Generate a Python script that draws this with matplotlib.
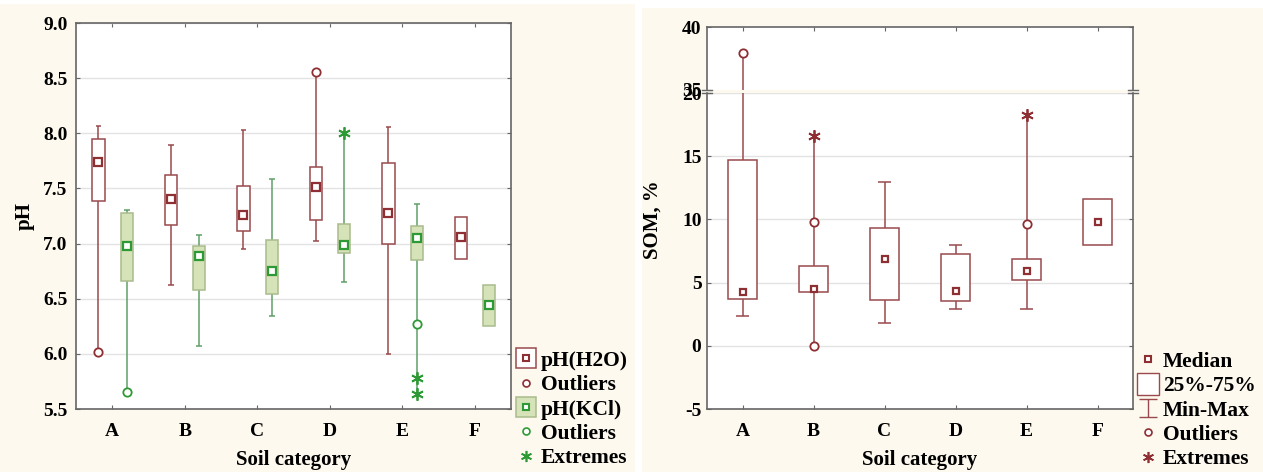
import numpy as np
import matplotlib.pyplot as plt
from matplotlib.lines import Line2D
from matplotlib.path import Path
from matplotlib.legend_handler import HandlerTuple

plt.rcParams['font.family'] = ['Liberation Serif', 'DejaVu Serif']
plt.rcParams['font.weight'] = 'bold'
plt.rcParams['axes.unicode_minus'] = False

categories = ['A', 'B', 'C', 'D', 'E', 'F']
nan = np.nan

# pH(H2O)
h2o_q1 = [7.39, 7.17, 7.11, 7.21, 7.00, 6.86]
h2o_med = [7.74, 7.40, 7.26, 7.51, 7.28, 7.06]
h2o_q3 = [7.95, 7.62, 7.52, 7.69, 7.73, 7.24]
h2o_lo = [nan, 6.62, 6.95, 7.02, 6.00, nan]
h2o_hi = [8.07, 7.89, 8.03, nan, 8.06, nan]
h2o_out = [[6.02], [], [], [8.56], [], []]
h2o_ext = [[], [], [], [], [], []]

# pH(KCl)
kcl_q1 = [6.66, 6.58, 6.54, 6.91, 6.85, 6.25]
kcl_med = [6.98, 6.89, 6.75, 6.99, 7.05, 6.44]
kcl_q3 = [7.28, 6.98, 7.03, 7.18, 7.16, 6.62]
kcl_lo = [nan, 6.07, 6.34, 6.65, nan, nan]
kcl_hi = [7.30, 7.08, 7.59, nan, 7.36, nan]
kcl_out = [[5.65], [], [], [], [6.27], []]
kcl_ext = [[], [], [], [8.00], [5.78, 5.64], []]

# SOM, %
som_q1 = [3.69, 4.27, 3.64, 3.53, 5.17, 7.94]
som_med = [4.25, 4.53, 6.83, 4.33, 5.91, 9.79]
som_q3 = [14.70, 6.33, 9.31, 7.30, 6.90, 11.60]
som_lo = [2.32, nan, 1.80, 2.90, 2.93, nan]
som_hi = [nan, nan, 12.95, 7.99, nan, nan]
som_out = [[37.9], [9.79, 0.0], [], [], [9.63], []]
som_ext = [[], [16.6], [], [], [18.27], []]

cream = '#fdf9ee'
maroon = '#9a4a4d'
maroon_dark = '#8e2f33'
green = '#2e9a35'
green_line = '#5f9f68'
kcl_fill = '#d6e2b7'
kcl_edge = '#a9bb8c'
grid_c = '#e3e3e3'
spine_c = '#666666'

star = (6, 2, 0)


def draw_boxes(ax, pos, q1, med, q3, lo, hi, outl, extr, width, capw,
               fc, ec, lc, mc, ms, flier_c):
    for i, x in enumerate(pos):
        vals = [q1[i], q3[i], lo[i], hi[i]] + outl[i] + extr[i]
        ax.vlines(x, np.nanmin(vals), np.nanmax(vals), color=lc, lw=1.1, zorder=2)
        for c in (lo[i], hi[i]):
            if not np.isnan(c):
                ax.hlines(c, x - capw / 2, x + capw / 2, color=lc, lw=1.1, zorder=2)
        if outl[i]:
            ax.plot([x] * len(outl[i]), outl[i], 'o', ms=6, mfc='white',
                    mec=flier_c, mew=1.3, zorder=5, clip_on=False)
        if extr[i]:
            ax.plot([x] * len(extr[i]), extr[i], marker=star, ls='none', ms=9,
                    mec=flier_c, mew=1.3, zorder=5, clip_on=False)
    ax.bar(pos, np.array(q3) - np.array(q1), bottom=q1, width=width,
           facecolor=fc, edgecolor=ec, lw=1.1, zorder=3)
    ax.plot(pos, med, 's', ms=ms, mfc='white', mec=mc, mew=1.6, ls='none', zorder=4)


def style_axes(ax):
    for s in ax.spines.values():
        s.set_color(spine_c)
        s.set_linewidth(1.2)
    ax.tick_params(direction='in', length=3, color=spine_c, top=True, right=True,
                   labelsize=14)
    ax.set_axisbelow(True)
    ax.yaxis.grid(True, color=grid_c, lw=1.0)


fig = plt.figure(figsize=(12.63, 4.72), dpi=100)
fig.patches.append(plt.Rectangle((0, 0), 635 / 1263, 1 - 4 / 472, transform=fig.transFigure,
                                 facecolor=cream, edgecolor='none', zorder=-10))
fig.patches.append(plt.Rectangle((642 / 1263, 0), 1 - 642 / 1263, 1 - 8 / 472,
                                 transform=fig.transFigure, facecolor=cream,
                                 edgecolor='none', zorder=-10))

x = np.arange(1, 7)

# ---- left panel: pH
ax1 = fig.add_axes([76 / 1263, 1 - 409 / 472, 435 / 1263, 386 / 472])
style_axes(ax1)
draw_boxes(ax1, x - 0.19, h2o_q1, h2o_med, h2o_q3, h2o_lo, h2o_hi, h2o_out, h2o_ext,
           0.17, 0.08, 'white', maroon, maroon, maroon_dark, 5.5, maroon_dark)
draw_boxes(ax1, x + 0.2, kcl_q1, kcl_med, kcl_q3, kcl_lo, kcl_hi, kcl_out, kcl_ext,
           0.17, 0.08, kcl_fill, kcl_edge, green_line, green, 5.5, green)
ax1.set_xlim(0.5, 6.5)
ax1.set_ylim(5.5, 9.0)
ax1.set_yticks(np.arange(5.5, 9.01, 0.5))
ax1.yaxis.set_major_formatter(plt.FormatStrFormatter('%.1f'))
ax1.set_xticks(x)
ax1.set_xticklabels(categories)
ax1.tick_params(axis='x', pad=10)
ax1.tick_params(axis='y', pad=6)
ax1.set_xlabel('Soil category', fontsize=15, fontweight='bold', labelpad=7)
ax1.set_ylabel('pH', fontsize=15, fontweight='bold', labelpad=6)

h_h2o = (Line2D([], [], marker='s', ms=15, mfc='white', mec=maroon, mew=1.1, ls='none'),
         Line2D([], [], marker='s', ms=5, mfc='white', mec=maroon_dark, mew=1.5, ls='none'))
h_out1 = Line2D([], [], marker='o', ms=5, mfc='white', mec=maroon_dark, mew=1.2, ls='none')
h_kcl = (Line2D([], [], marker='s', ms=15, mfc=kcl_fill, mec=kcl_edge, mew=1.1, ls='none'),
         Line2D([], [], marker='s', ms=5, mfc='white', mec=green, mew=1.5, ls='none'))
h_out2 = Line2D([], [], marker='o', ms=5, mfc='white', mec=green, mew=1.2, ls='none')
h_ext2 = Line2D([], [], marker=star, ms=8, mec=green, mew=1.2, ls='none')
fig.legend([h_h2o, h_out1, h_kcl, h_out2, h_ext2],
           ['pH(H2O)', 'Outliers', 'pH(KCl)', 'Outliers', 'Extremes'],
           handler_map={tuple: HandlerTuple(ndivide=1, pad=0)},
           loc='lower left', bbox_to_anchor=(503 / 1263, -0.022), frameon=False,
           prop={'size': 15.5, 'weight': 'bold'}, handlelength=0.8,
           handletextpad=0.3, labelspacing=0.2, borderpad=0.15)

# ---- right panel: SOM with broken axis
ax2 = fig.add_axes([707 / 1263, 1 - 409 / 472, 426 / 1263, 316 / 472])
ax3 = fig.add_axes([707 / 1263, 1 - 90 / 472, 426 / 1263, 63 / 472])
for ax in (ax2, ax3):
    style_axes(ax)
    draw_boxes(ax, x, som_q1, som_med, som_q3, som_lo, som_hi, som_out, som_ext,
               0.4, 0.18, 'white', maroon, maroon, maroon_dark, 5, maroon_dark)
    ax.set_xlim(0.5, 6.5)
    ax.set_xticks(x)
    ax.tick_params(axis='y', pad=4)
for ln in ax3.lines + ax3.collections:
    ln.set_clip_on(True)
ax2.set_ylim(-5, 20)
ax2.set_yticks(np.arange(-5, 21, 5))
ax2.set_xticklabels(categories)
ax2.tick_params(axis='x', pad=10)
ax2.spines['top'].set_visible(False)
ax2.tick_params(axis='x', top=False)
ax3.set_ylim(35, 40)
ax3.set_yticks([35, 40])
ax3.tick_params(axis='x', bottom=False, labelbottom=False)
ax3.spines['bottom'].set_visible(False)
ax3.yaxis.grid(False)
ax2.set_xlabel('Soil category', fontsize=15, fontweight='bold', labelpad=7)
ax2.set_ylabel('SOM, %', fontsize=15, fontweight='bold')
ax2.yaxis.set_label_coords(-0.105, 0.6)

# break marks on both spines
for xa in (0, 1):
    ax3.plot([xa - 0.012, xa + 0.012], [0, 0], transform=ax3.transAxes, color=spine_c,
             lw=1.0, clip_on=False)
    ax2.plot([xa - 0.012, xa + 0.012], [1, 1], transform=ax2.transAxes, color=spine_c,
             lw=1.0, clip_on=False)

ibeam = Path([(-1, -1), (1, -1), (0, -1), (0, 1), (-1, 1), (1, 1)],
             [Path.MOVETO, Path.LINETO, Path.MOVETO, Path.LINETO, Path.MOVETO, Path.LINETO])
h_med = Line2D([], [], marker='s', ms=5, mfc='white', mec=maroon_dark, mew=1.5, ls='none')
h_box = Line2D([], [], marker='s', ms=16, mfc='white', mec=maroon, mew=1.0, ls='none')
h_mm = Line2D([], [], marker=ibeam, ms=13, mfc='none', mec=maroon, mew=1.0, ls='none')
h_out = Line2D([], [], marker='o', ms=5, mfc='white', mec=maroon_dark, mew=1.2, ls='none')
h_ext = Line2D([], [], marker=star, ms=8, mec=maroon_dark, mew=1.2, ls='none')
fig.legend([h_med, h_box, h_mm, h_out, h_ext],
           ['Median', '25%-75%', 'Min-Max', 'Outliers', 'Extremes'],
           loc='lower left', bbox_to_anchor=(1125 / 1263, -0.024), frameon=False,
           prop={'size': 15.5, 'weight': 'bold'}, handlelength=0.8,
           handletextpad=0.3, labelspacing=0.2, borderpad=0.15)

fig.savefig('out.png', dpi=100, facecolor='white')
